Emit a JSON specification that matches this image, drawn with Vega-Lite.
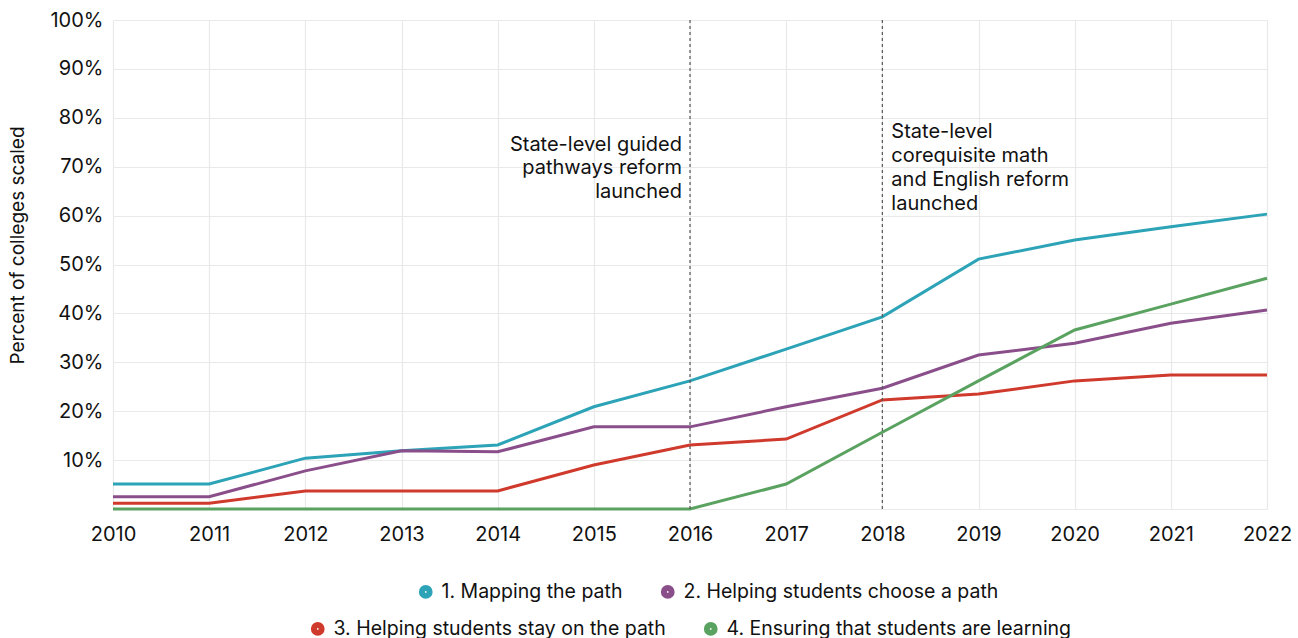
{
  "$schema": "https://vega.github.io/schema/vega-lite/v6.json",
  "autosize": "none",
  "width": 1154,
  "height": 489,
  "padding": {"left": 113, "top": 20, "right": 31, "bottom": 129},
  "background": "white",
  "config": {
    "font": "Inter",
    "view": {"stroke": null},
    "axis": {"labelFont": "Inter", "titleFont": "Inter", "labelColor": "#111", "titleColor": "#111", "gridColor": "#e9e9e9", "gridWidth": 1.2, "domain": false, "ticks": false},
    "legend": {"labelFont": "Inter", "labelFontSize": 19.5, "labelColor": "#111", "labelLimit": 600, "labelOffset": 6, "symbolType": "circle", "symbolSize": 60, "symbolStrokeWidth": 6, "columnPadding": 28, "title": null}
  },
  "datasets": {
    "series": [
      {"year": 2010, "value": 0.051, "series": "1. Mapping the path", "row": 1},
      {"year": 2011, "value": 0.051, "series": "1. Mapping the path", "row": 1},
      {"year": 2012, "value": 0.104, "series": "1. Mapping the path", "row": 1},
      {"year": 2013, "value": 0.119, "series": "1. Mapping the path", "row": 1},
      {"year": 2014, "value": 0.131, "series": "1. Mapping the path", "row": 1},
      {"year": 2015, "value": 0.209, "series": "1. Mapping the path", "row": 1},
      {"year": 2016, "value": 0.262, "series": "1. Mapping the path", "row": 1},
      {"year": 2017, "value": 0.327, "series": "1. Mapping the path", "row": 1},
      {"year": 2018, "value": 0.393, "series": "1. Mapping the path", "row": 1},
      {"year": 2019, "value": 0.511, "series": "1. Mapping the path", "row": 1},
      {"year": 2020, "value": 0.550, "series": "1. Mapping the path", "row": 1},
      {"year": 2021, "value": 0.577, "series": "1. Mapping the path", "row": 1},
      {"year": 2022, "value": 0.603, "series": "1. Mapping the path", "row": 1},
      {"year": 2010, "value": 0.025, "series": "2. Helping students choose a path", "row": 1},
      {"year": 2011, "value": 0.025, "series": "2. Helping students choose a path", "row": 1},
      {"year": 2012, "value": 0.078, "series": "2. Helping students choose a path", "row": 1},
      {"year": 2013, "value": 0.119, "series": "2. Helping students choose a path", "row": 1},
      {"year": 2014, "value": 0.117, "series": "2. Helping students choose a path", "row": 1},
      {"year": 2015, "value": 0.168, "series": "2. Helping students choose a path", "row": 1},
      {"year": 2016, "value": 0.168, "series": "2. Helping students choose a path", "row": 1},
      {"year": 2017, "value": 0.209, "series": "2. Helping students choose a path", "row": 1},
      {"year": 2018, "value": 0.247, "series": "2. Helping students choose a path", "row": 1},
      {"year": 2019, "value": 0.315, "series": "2. Helping students choose a path", "row": 1},
      {"year": 2020, "value": 0.339, "series": "2. Helping students choose a path", "row": 1},
      {"year": 2021, "value": 0.380, "series": "2. Helping students choose a path", "row": 1},
      {"year": 2022, "value": 0.407, "series": "2. Helping students choose a path", "row": 1},
      {"year": 2010, "value": 0.012, "series": "3. Helping students stay on the path", "row": 2},
      {"year": 2011, "value": 0.012, "series": "3. Helping students stay on the path", "row": 2},
      {"year": 2012, "value": 0.037, "series": "3. Helping students stay on the path", "row": 2},
      {"year": 2013, "value": 0.037, "series": "3. Helping students stay on the path", "row": 2},
      {"year": 2014, "value": 0.037, "series": "3. Helping students stay on the path", "row": 2},
      {"year": 2015, "value": 0.090, "series": "3. Helping students stay on the path", "row": 2},
      {"year": 2016, "value": 0.131, "series": "3. Helping students stay on the path", "row": 2},
      {"year": 2017, "value": 0.143, "series": "3. Helping students stay on the path", "row": 2},
      {"year": 2018, "value": 0.223, "series": "3. Helping students stay on the path", "row": 2},
      {"year": 2019, "value": 0.235, "series": "3. Helping students stay on the path", "row": 2},
      {"year": 2020, "value": 0.262, "series": "3. Helping students stay on the path", "row": 2},
      {"year": 2021, "value": 0.274, "series": "3. Helping students stay on the path", "row": 2},
      {"year": 2022, "value": 0.274, "series": "3. Helping students stay on the path", "row": 2},
      {"year": 2010, "value": 0.0, "series": "4. Ensuring that students are learning", "row": 2},
      {"year": 2011, "value": 0.0, "series": "4. Ensuring that students are learning", "row": 2},
      {"year": 2012, "value": 0.0, "series": "4. Ensuring that students are learning", "row": 2},
      {"year": 2013, "value": 0.0, "series": "4. Ensuring that students are learning", "row": 2},
      {"year": 2014, "value": 0.0, "series": "4. Ensuring that students are learning", "row": 2},
      {"year": 2015, "value": 0.0, "series": "4. Ensuring that students are learning", "row": 2},
      {"year": 2016, "value": 0.0, "series": "4. Ensuring that students are learning", "row": 2},
      {"year": 2017, "value": 0.051, "series": "4. Ensuring that students are learning", "row": 2},
      {"year": 2018, "value": 0.157, "series": "4. Ensuring that students are learning", "row": 2},
      {"year": 2019, "value": 0.262, "series": "4. Ensuring that students are learning", "row": 2},
      {"year": 2020, "value": 0.366, "series": "4. Ensuring that students are learning", "row": 2},
      {"year": 2021, "value": 0.419, "series": "4. Ensuring that students are learning", "row": 2},
      {"year": 2022, "value": 0.472, "series": "4. Ensuring that students are learning", "row": 2}
    ],
    "events": [
      {"year": 2016, "top": 1.0, "bottom": 0.0, "label": ["State-level guided", "pathways reform", "launched"], "anchor": 0.765, "side": "left"},
      {"year": 2018, "top": 1.0, "bottom": 0.0, "label": ["State-level", "corequisite math", "and English reform", "launched"], "anchor": 0.792, "side": "right"}
    ]
  },
  "layer": [
    {
      "data": {"name": "series"},
      "transform": [{"filter": "datum.row == 1"}],
      "mark": {"type": "line", "strokeWidth": 3, "clip": false},
      "encoding": {
        "x": {
          "field": "year", "type": "quantitative",
          "scale": {"domain": [2010, 2022], "nice": false, "zero": false},
          "axis": {"title": null, "values": [2010, 2011, 2012, 2013, 2014, 2015, 2016, 2017, 2018, 2019, 2020, 2021, 2022], "format": "d", "labelFontSize": 20, "labelPadding": 15, "labelFlush": false, "labelOverlap": false, "grid": true}
        },
        "y": {
          "field": "value", "type": "quantitative",
          "scale": {"domain": [0, 1], "nice": false},
          "axis": {"title": "Percent of colleges scaled", "titleFontSize": 19, "titleFontWeight": "normal", "titlePadding": 22, "titleY": 225, "values": [0, 0.1, 0.2, 0.3, 0.4, 0.5, 0.6, 0.7, 0.8, 0.9, 1.0], "labelExpr": "datum.value == 0 ? '' : format(datum.value, '.0%')", "labelFontSize": 20, "labelPadding": 10, "labelFlush": false}
        },
        "color": {
          "field": "series", "type": "nominal",
          "scale": {"domain": ["1. Mapping the path", "2. Helping students choose a path"], "range": ["#2ca3b7", "#8a4f8b"]},
          "legend": {"orient": "none", "direction": "horizontal", "legendX": 303, "legendY": 562}
        }
      }
    },
    {
      "data": {"name": "series"},
      "transform": [{"filter": "datum.row == 2"}],
      "mark": {"type": "line", "strokeWidth": 3, "clip": false},
      "encoding": {
        "x": {"field": "year", "type": "quantitative"},
        "y": {"field": "value", "type": "quantitative"},
        "color": {
          "field": "series", "type": "nominal",
          "scale": {"domain": ["3. Helping students stay on the path", "4. Ensuring that students are learning"], "range": ["#d03a2c", "#5aa260"]},
          "legend": {"orient": "none", "direction": "horizontal", "legendX": 195, "legendY": 599}
        }
      }
    },
    {
      "data": {"name": "events"},
      "mark": {"type": "rule", "strokeDash": [3, 3], "color": "#555", "strokeWidth": 1.2},
      "encoding": {
        "x": {"field": "year", "type": "quantitative"},
        "y": {"field": "top", "type": "quantitative"},
        "y2": {"field": "bottom"}
      }
    },
    {
      "data": {"name": "events"},
      "transform": [{"filter": "datum.side == 'left'"}],
      "mark": {"type": "text", "align": "right", "baseline": "top", "dx": -8, "fontSize": 20, "lineHeight": 23.5, "color": "#111"},
      "encoding": {
        "x": {"field": "year", "type": "quantitative"},
        "y": {"field": "anchor", "type": "quantitative"},
        "text": {"field": "label", "type": "nominal"}
      }
    },
    {
      "data": {"name": "events"},
      "transform": [{"filter": "datum.side == 'right'"}],
      "mark": {"type": "text", "align": "left", "baseline": "top", "dx": 9, "fontSize": 20, "lineHeight": 24, "color": "#111"},
      "encoding": {
        "x": {"field": "year", "type": "quantitative"},
        "y": {"field": "anchor", "type": "quantitative"},
        "text": {"field": "label", "type": "nominal"}
      }
    }
  ],
  "resolve": {"scale": {"color": "independent"}, "legend": {"color": "independent"}}
}
